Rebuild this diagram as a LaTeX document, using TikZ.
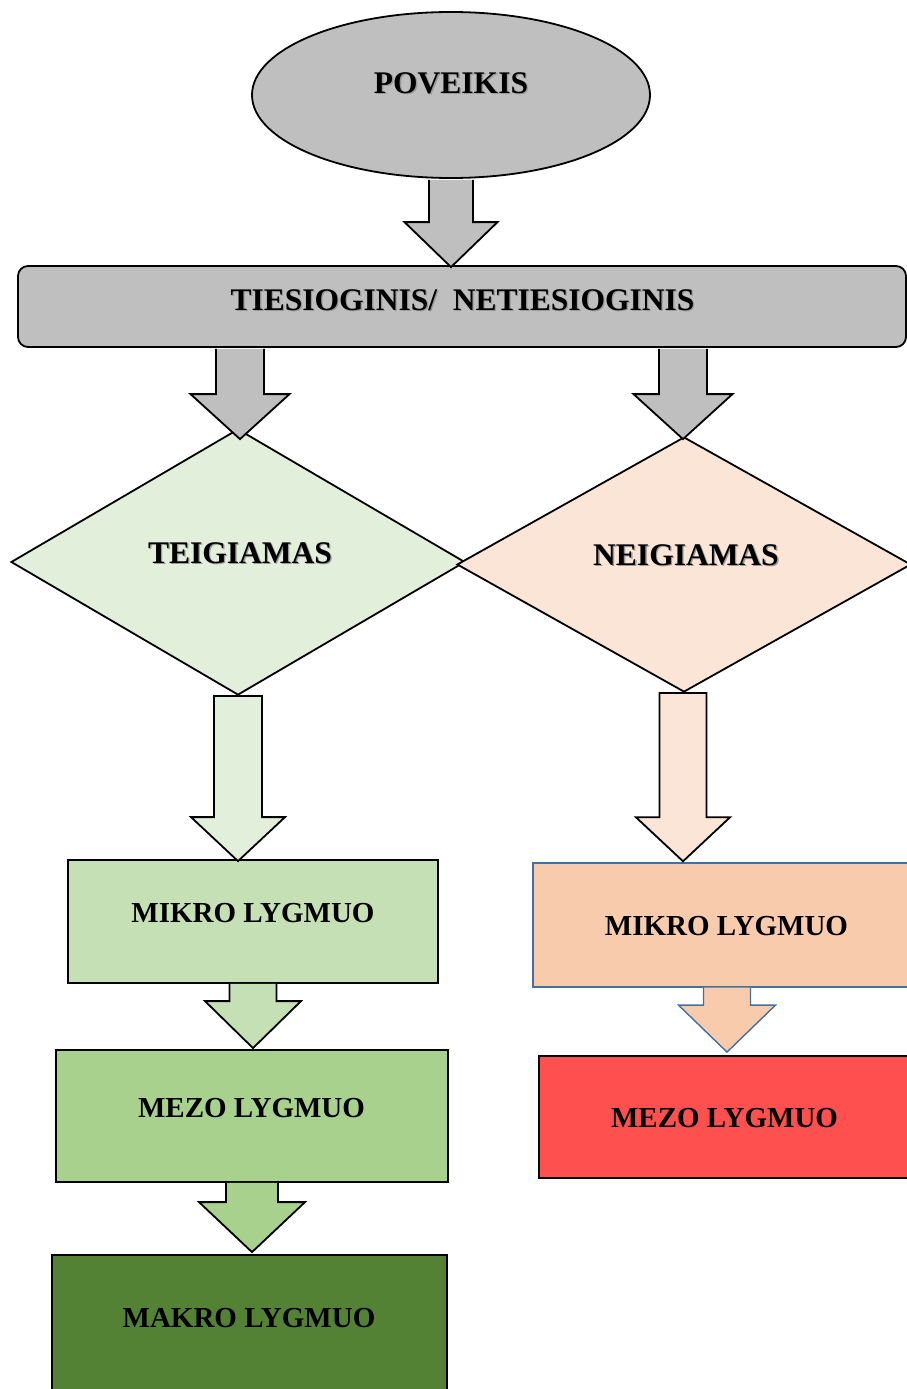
\documentclass[tikz,border=0pt]{standalone}
\usepackage{fontspec}
\setmainfont{Liberation Serif}
\usetikzlibrary{shapes.geometric,calc}

\definecolor{greyfill}{HTML}{BFBFBF}
\definecolor{teiggreen}{HTML}{E2EFDA}
\definecolor{neigpeach}{HTML}{FBE5D6}
\definecolor{mikrogreen}{HTML}{C5E0B4}
\definecolor{mezogreen}{HTML}{A9D18E}
\definecolor{makrogreen}{HTML}{548235}
\definecolor{mikropeach}{HTML}{F8CBAD}
\definecolor{mezored}{HTML}{FF5050}
\definecolor{blueline}{HTML}{41719C}

% text with a soft grey drop shadow
\newcommand\shadowed[1]{\makebox[0pt][l]{\hspace{1.3pt}\raisebox{-1.3pt}{\textcolor{black!40}{#1}}}#1}

% block arrow: #1 style, #2 top of shaft, #3 tip,
% #4 half shaft width, #5 half head width, #6 head length,
% #7 path end (empty: open top, or -- cycle: closed top)
\newcommand\blockarrow[7]{%
  \path[#1] let \p1=(#2), \p2=(#3) in
    (\x1-#4pt,\y1) -- (\x1-#4pt,\y2+#6pt) -- (\x1-#5pt,\y2+#6pt) -- (\x1,\y2)
    -- (\x1+#5pt,\y2+#6pt) -- (\x1+#4pt,\y2+#6pt) -- (\x1+#4pt,\y1) #7;}

\tikzset{
  outl/.style={draw=black, line width=1.8pt},
  levelbox/.style={outl, rectangle, inner sep=0pt},
  blockarr/.style={draw=black, line width=1.8pt, line join=miter},
  bigtxt/.style={anchor=base, inner sep=0pt, font=\fontsize{31.5}{36}\selectfont\bfseries},
  lvltxt/.style={anchor=base, inner sep=0pt, font=\fontsize{29}{34}\selectfont\bfseries},
}

\begin{document}
\begin{tikzpicture}[x=1pt, y=-1pt]
\useasboundingbox (0,0) rectangle (907,1389);
\clip (0,0) rectangle (907,1389);

% shapes
\node[ellipse, outl, fill=greyfill, minimum width=398, minimum height=166, inner sep=0pt] (pov) at (451,95) {};
\node[outl, fill=greyfill, rounded corners=10pt, minimum width=888, minimum height=81, inner sep=0pt] (tie) at (462,306.5) {};
\node[diamond, outl, fill=teiggreen, minimum width=454, minimum height=266, shape aspect=1.7, inner sep=0pt] (teig) at (238,562) {};
\node[diamond, outl, fill=neigpeach, minimum width=454, minimum height=255, shape aspect=1.78, inner sep=0pt] (neig) at (684,564.5) {};
\node[levelbox, fill=mikrogreen, minimum width=370, minimum height=123] (mikL) at (253,921.5) {};
\node[levelbox, fill=mezogreen, minimum width=392, minimum height=132] (mezL) at (252,1116) {};
\node[levelbox, fill=makrogreen, minimum width=395, minimum height=145] (makL) at (249.5,1327.5) {};
\node[levelbox, draw=blueline, line width=1.4pt, fill=mikropeach, minimum width=388, minimum height=124] (mikR) at (727,925) {};
\node[levelbox, fill=mezored, minimum width=372, minimum height=122] (mezR) at (725,1117) {};

% block arrows between the shapes
\coordinate (tipA) at ($(pov.south |- tie.north)+(0,2)$);
\blockarrow{blockarr, fill=greyfill}{$(pov.south)+(0,1)$}{tipA}{22}{46.5}{45}{}
\coordinate (tipB) at ($(teig.north)+(2,11)$);
\blockarrow{blockarr, fill=greyfill}{$(tie.south -| tipB)+(0,1)$}{tipB}{24}{49.5}{45}{}
\coordinate (tipC) at ($(neig.north)+(-1,3)$);
\blockarrow{blockarr, fill=greyfill}{$(tie.south -| tipC)+(0,1)$}{tipC}{24}{49.5}{45}{}
\coordinate (tipD) at ($(teig.south |- mikL.north)+(0,2)$);
\blockarrow{blockarr, fill=teiggreen}{teig.south}{tipD}{24}{47}{44}{-- cycle}
\coordinate (tipE) at ($(neig.south |- mikR.north)+(-1,-1)$);
\blockarrow{blockarr, fill=neigpeach}{neig.south -| tipE}{tipE}{23.5}{47}{44}{-- cycle}
\coordinate (tipF) at ($(mikL.south |- mezL.north)+(0,-1)$);
\blockarrow{blockarr, fill=mikrogreen}{mikL.south}{tipF}{23.5}{48}{47}{}
\coordinate (tipG) at ($(mezL.south |- makL.north)+(0,-2)$);
\blockarrow{blockarr, fill=mezogreen}{mezL.south}{tipG}{26}{53}{50}{}
\coordinate (tipH) at ($(mikR.south |- mezR.north)+(0,-3)$);
\blockarrow{draw=blueline, line width=1.4pt, line join=miter, fill=mikropeach}{mikR.south}{tipH}{23.5}{48.5}{47}{}

% labels
\node[bigtxt] (povT) at (451,93) {\shadowed{POVEIKIS}};
\node[bigtxt] (tieT) at (462.5,310) {\shadowed{TIESIOGINIS/\ \ NETIESIOGINIS}};
\node[bigtxt] (teigT) at (240,563) {\shadowed{TEIGIAMAS}};
\node[bigtxt] (neigT) at (686,565) {\shadowed{NEIGIAMAS}};
\node[lvltxt] (mikLT) at (253,922) {MIKRO LYGMUO};
\node[lvltxt] (mezLT) at (251.5,1117) {MEZO LYGMUO};
\node[lvltxt] (makLT) at (249,1327) {MAKRO LYGMUO};
\node[lvltxt] (mikRT) at (726.5,935) {MIKRO LYGMUO};
\node[lvltxt] (mezRT) at (724.5,1127) {MEZO LYGMUO};
\end{tikzpicture}
\end{document}
